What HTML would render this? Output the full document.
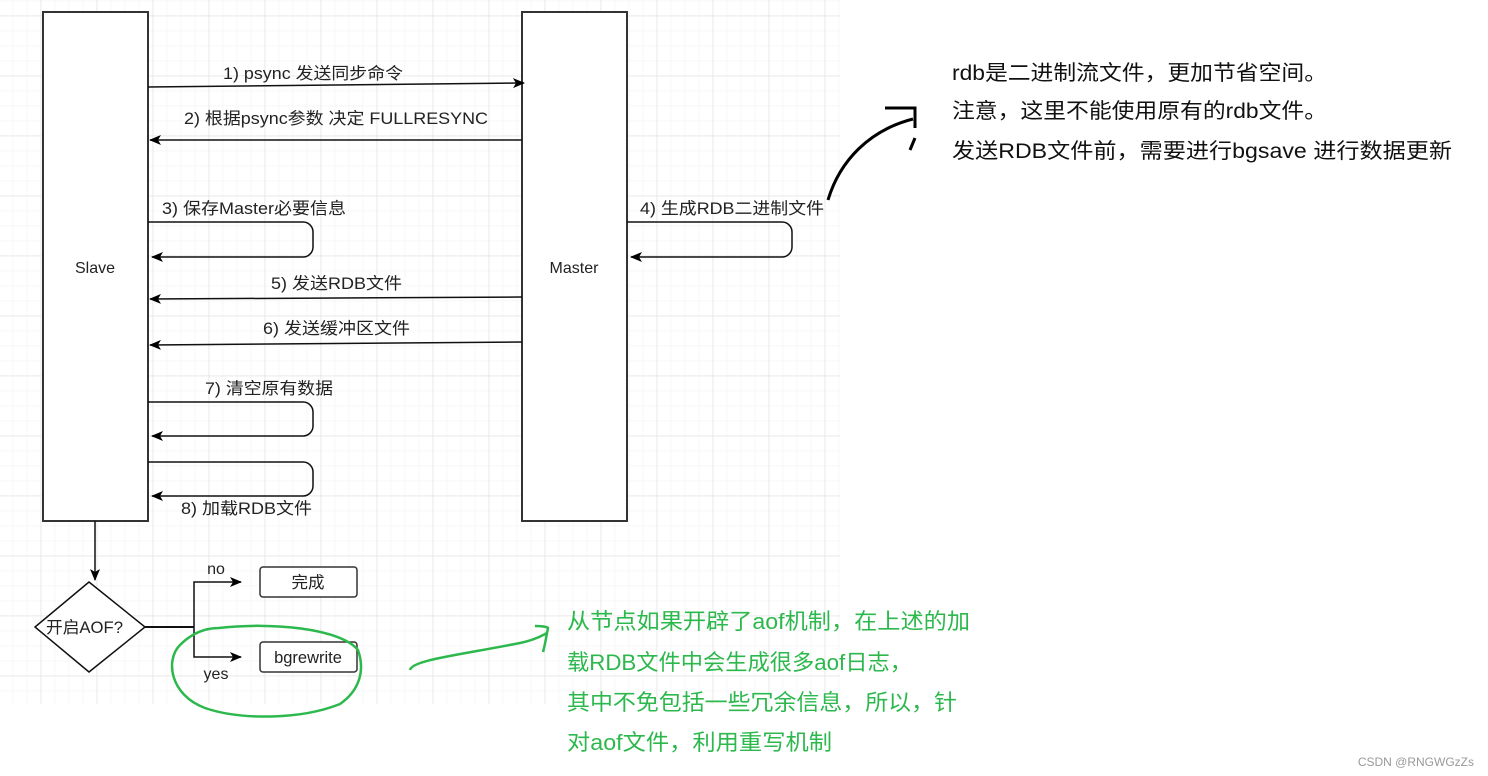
<!DOCTYPE html>
<html><head><meta charset="utf-8"><style>
html,body{margin:0;padding:0;background:#fff;width:1488px;height:776px;overflow:hidden}
svg{display:block}
text{font-family:"Liberation Sans","Noto Sans CJK SC",sans-serif}
</style></head><body>
<svg width="1488" height="776" viewBox="0 0 1488 776" xmlns="http://www.w3.org/2000/svg">
<defs>
<pattern id="minor" x="40.7" y="15.7" width="14" height="15" patternUnits="userSpaceOnUse">
<path d="M0 0V15M0 0H14" stroke="#f0f0f0" stroke-width="1" fill="none"/>
</pattern>
<pattern id="major" x="40.7" y="15.7" width="56" height="60" patternUnits="userSpaceOnUse">
<path d="M0 0V60M0 0H56" stroke="#dcdcdc" stroke-width="1" fill="none"/>
</pattern>
<marker id="ah" markerWidth="12" markerHeight="10" refX="11" refY="5" orient="auto" markerUnits="userSpaceOnUse">
<path d="M0 0L12 5L0 10L3 5Z" fill="#000"/>
</marker>
</defs>
<rect x="0" y="0" width="840" height="704" fill="url(#minor)"/>
<rect x="0" y="0" width="840" height="704" fill="url(#major)"/>

<g stroke="#333" stroke-width="2" fill="#fff">
<rect x="43" y="12" width="105" height="509"/>
<rect x="522" y="12" width="105" height="509"/>
</g>
<g font-size="16" fill="#222" text-anchor="middle">
<text x="95" y="273">Slave</text>
<text x="574" y="273">Master</text>
</g>

<g stroke="#111" stroke-width="1.5" fill="none" marker-end="url(#ah)">
<path d="M148 87L524 83"/>
<path d="M522 140L150 140"/>
<path d="M148 222H303a10 10 0 0 1 10 10V247a10 10 0 0 1 -10 10H152"/>
<path d="M627 222H782a10 10 0 0 1 10 10V247a10 10 0 0 1 -10 10H631"/>
<path d="M522 297L150 299"/>
<path d="M522 342L150 345"/>
<path d="M148 402H303a10 10 0 0 1 10 10V426a10 10 0 0 1 -10 10H152"/>
<path d="M148 462H303a10 10 0 0 1 10 10V486a10 10 0 0 1 -10 10H152"/>
<path d="M95 521V580"/>
<path d="M194 627V582H241"/>
<path d="M194 627V657H241"/>
</g>
<path d="M145 627H194" stroke="#111" stroke-width="2"/>

<g font-size="16.5" fill="#222" lengthAdjust="spacingAndGlyphs">
<text x="223" y="79" textLength="180" lengthAdjust="spacingAndGlyphs">1) psync 发送同步命令</text>
<text x="184" y="124" textLength="304" lengthAdjust="spacingAndGlyphs">2) 根据psync参数 决定 FULLRESYNC</text>
<text x="162" y="214" textLength="184" lengthAdjust="spacingAndGlyphs">3) 保存Master必要信息</text>
<text x="640" y="214" textLength="184" lengthAdjust="spacingAndGlyphs">4) 生成RDB二进制文件</text>
<text x="271" y="289" textLength="131" lengthAdjust="spacingAndGlyphs">5) 发送RDB文件</text>
<text x="263" y="334" textLength="147" lengthAdjust="spacingAndGlyphs">6) 发送缓冲区文件</text>
<text x="205" y="394" textLength="128" lengthAdjust="spacingAndGlyphs">7) 清空原有数据</text>
<text x="181" y="514" textLength="131" lengthAdjust="spacingAndGlyphs">8) 加载RDB文件</text>
</g>
<g font-size="16" fill="#222" text-anchor="middle">
<text x="216" y="574">no</text>
<text x="216" y="679">yes</text>
</g>

<path d="M89 582L145 627L89 672L35 627Z" fill="#fff" stroke="#111" stroke-width="1.5"/>
<text x="46" y="633" font-size="16.5" fill="#222" textLength="77" lengthAdjust="spacingAndGlyphs">开启AOF?</text>
<rect x="260" y="567" width="97" height="30" rx="3" fill="#fff" stroke="#333" stroke-width="1.5"/>
<rect x="260" y="642" width="97" height="30" rx="3" fill="#fff" stroke="#333" stroke-width="1.5"/>
<g font-size="16.5" fill="#222" text-anchor="middle">
<text x="308" y="588">完成</text>
<text x="308" y="663">bgrewrite</text>
</g>

<path d="M828 200C840 160 870 130 913 119" stroke="#000" stroke-width="3" fill="none"/>
<path d="M885 108H915V128M915 138L910 150" stroke="#000" stroke-width="3" fill="none"/>

<path d="M219 628C270 622 340 628 358 650C365 670 360 690 340 704C300 720 240 720 205 708C170 695 165 660 180 645C195 630 210 628 219 628Z" stroke="#2db84d" stroke-width="2.5" fill="none"/>
<path d="M410 670C412 660 460 655 520 643C530 641 540 637 547 633M535 626C542 626 548 627 548 628C546 638 545 645 543 652" stroke="#2db84d" stroke-width="2.5" fill="none"/>

<g font-size="21" fill="#111">
<text x="952" y="80" textLength="375" lengthAdjust="spacingAndGlyphs">rdb是二进制流文件，更加节省空间。</text>
<text x="952" y="118" textLength="375" lengthAdjust="spacingAndGlyphs">注意，这里不能使用原有的rdb文件。</text>
<text x="952" y="158" textLength="500" lengthAdjust="spacingAndGlyphs">发送RDB文件前，需要进行bgsave 进行数据更新</text>
</g>
<g font-size="22" fill="#2db84d">
<text x="567" y="629" textLength="403" lengthAdjust="spacingAndGlyphs">从节点如果开辟了aof机制，在上述的加</text>
<text x="567" y="670" textLength="345" lengthAdjust="spacingAndGlyphs">载RDB文件中会生成很多aof日志，</text>
<text x="567" y="710" textLength="390" lengthAdjust="spacingAndGlyphs">其中不免包括一些冗余信息，所以，针</text>
<text x="567" y="750" textLength="265" lengthAdjust="spacingAndGlyphs">对aof文件，利用重写机制</text>
</g>
<text x="1474" y="766" font-size="12" fill="#999" text-anchor="end">CSDN @RNGWGzZs</text>
</svg>
</body></html>
